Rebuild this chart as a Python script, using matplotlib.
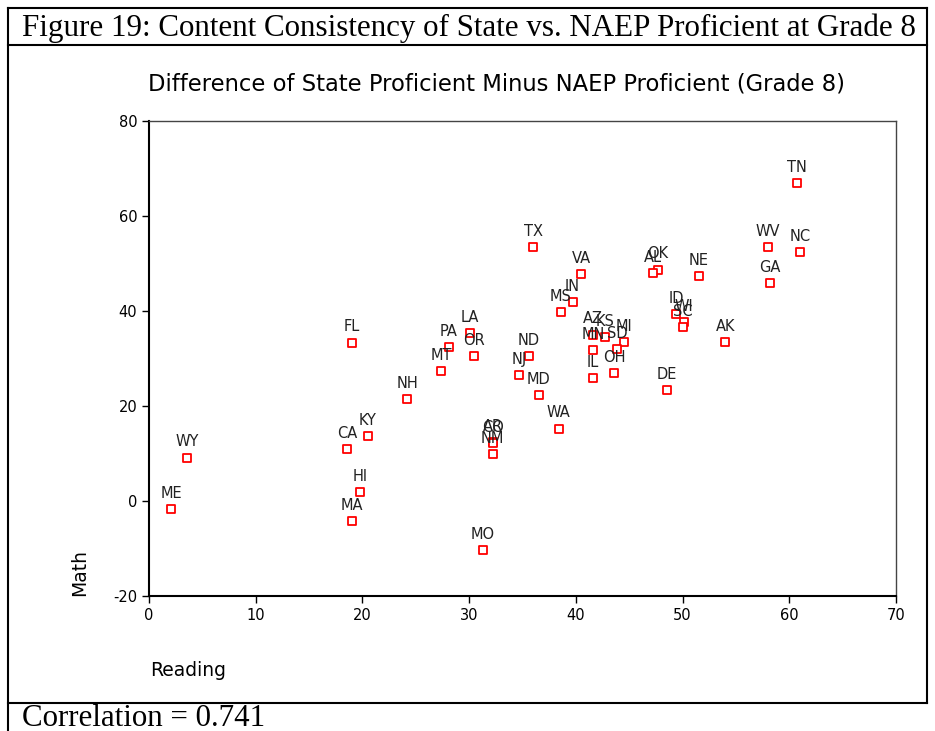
import matplotlib
matplotlib.use("Agg")
from matplotlib import pyplot as plt
from matplotlib.lines import Line2D

# state codes with reading / math difference (state proficient minus NAEP proficient)
states = ["TN", "NC", "WV", "GA", "NE", "AK", "OK", "AL", "ID", "WI", "SC",
          "VA", "IN", "MS", "AZ", "KS", "MI", "SD", "MN", "IL", "OH", "DE",
          "TX", "LA", "PA", "OR", "MT", "ND", "NJ", "MD", "WA", "AR", "CO",
          "NM", "FL", "NH", "KY", "CA", "HI", "MA", "WY", "ME", "MO"]
reading = [60.7, 61.0, 58.0, 58.2, 51.5, 54.0, 47.7, 47.2, 49.4, 50.1, 50.0,
           40.5, 39.7, 38.6, 41.6, 42.7, 44.5, 43.9, 41.6, 41.6, 43.6, 48.5,
           36.0, 30.1, 28.1, 30.5, 27.4, 35.6, 34.7, 36.5, 38.4, 32.2, 32.2,
           32.2, 19.0, 24.2, 20.5, 18.6, 19.8, 19.0, 3.6, 2.1, 31.3]
math = [66.9, 52.4, 53.5, 45.9, 47.4, 33.5, 48.7, 48.0, 39.4, 37.7, 36.6,
        47.8, 41.9, 39.8, 35.0, 34.5, 33.5, 32.0, 31.8, 25.9, 26.9, 23.4,
        53.5, 35.4, 32.4, 30.5, 27.4, 30.5, 26.5, 22.3, 15.2, 12.4, 12.2,
        9.9, 33.3, 21.5, 13.7, 10.9, 1.9, -4.2, 9.1, -1.7, -10.3]

x_ticks = [0, 10, 20, 30, 40, 50, 60, 70]
y_ticks = [-20, 0, 20, 40, 60, 80]

plt.rcParams['font.family'] = ['DejaVu Sans']
plt.rcParams['axes.unicode_minus'] = False

W, H = 935, 731
fig = plt.figure(figsize=(W / 100, H / 100), dpi=100)

def fx(px):
    return px / W

def fy(py):
    return 1 - py / H

# frame of the figure box
frame_kw = dict(color="black", lw=1.5, transform=fig.transFigure)
fig.add_artist(Line2D([fx(8), fx(927)], [fy(8), fy(8)], **frame_kw))
fig.add_artist(Line2D([fx(8), fx(927)], [fy(45), fy(45)], **frame_kw))
fig.add_artist(Line2D([fx(8), fx(927)], [fy(703), fy(703)], **frame_kw))
fig.add_artist(Line2D([fx(8), fx(8)], [fy(8), fy(731)], **frame_kw))
fig.add_artist(Line2D([fx(927), fx(927)], [fy(8), fy(703)], **frame_kw))

fig.text(fx(22), fy(28), "Figure 19: Content Consistency of State vs. NAEP Proficient at Grade 8",
         family="Liberation Serif", fontsize=22.3, va="center", ha="left")
fig.text(fx(22), fy(718), "Correlation = 0.741",
         family="Liberation Serif", fontsize=22.3, va="center", ha="left")

ax = fig.add_axes([fx(149), fy(596), fx(896) - fx(149), fy(121) - fy(596)])
ax.scatter(reading, math, marker="s", s=40, facecolors="white",
           edgecolors="red", linewidths=1.3, zorder=3)
for s, x, y in zip(states, reading, math):
    ax.annotate(s, (x, y), xytext=(0, 6), textcoords="offset points",
                ha="center", va="bottom", fontsize=10.5, color="#222222")

ax.set_xlim(0, 70)
ax.set_ylim(-20, 80)
ax.set_xticks(x_ticks)
ax.set_yticks(y_ticks)
ax.tick_params(direction="out", length=5, width=1, labelsize=10.5)
for side in ["left", "bottom"]:
    ax.spines[side].set_linewidth(1.5)
for side in ["top", "right"]:
    ax.spines[side].set_linewidth(1)
    ax.spines[side].set_color("#444444")

fig.text(fx(497), fy(84), "Difference of State Proficient Minus NAEP Proficient (Grade 8)",
         fontsize=16.3, ha="center", va="center")
fig.text(fx(150), fy(670), "Reading", fontsize=13.5, ha="left", va="center")
fig.text(fx(80), fy(596), "Math", fontsize=13.5, ha="center", va="bottom", rotation=90)

fig.savefig("out.png", dpi=100)
